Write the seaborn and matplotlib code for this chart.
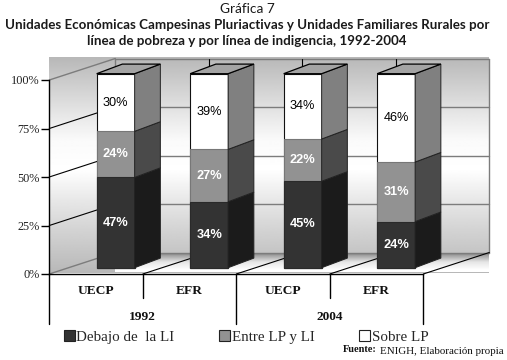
import numpy as np
import pandas as pd
import matplotlib
matplotlib.use("Agg")
import matplotlib.pyplot as plt
from matplotlib.patches import Patch
import seaborn as sns

# ---- data ----
categories = ["UECP", "EFR", "UECP", "EFR"]
years = ["1992", "2004"]
bajo_li = [47, 34, 45, 24]
entre_lp_li = [24, 27, 22, 31]
sobre_lp = [30, 39, 34, 46]
series_names = ["Debajo de  la LI", "Entre LP y LI", "Sobre LP"]
y_ticks = [0, 25, 50, 75, 100]

sns.set_theme(style="white")
W, H = 507, 360
fig = plt.figure(figsize=(W / 100, H / 100), dpi=100, facecolor="white")
L, R, Y0, Y100 = 49.3, 423.3, 274.0, 80.0
ax = fig.add_axes([L / W, 1 - Y0 / H, (R - L) / W, (Y0 - Y100) / H])
ax.set_xlim(-0.5, 3.5)
ax.set_ylim(0, 100)
ax.patch.set_visible(False)


def dx(px):
    return px * 4 / (R - L)


def dy(px):
    return px * 100 / (Y0 - Y100)


def X(px):
    return -0.5 + dx(px - L)


def Y(px):
    return dy(Y0 - px)


# ---- walls and floor ----
grad_y = np.linspace(57, 273, 220)
grad = np.interp(grad_y, [57, 106, 140, 170, 203, 273], [0.72, 0.88, 0.98, 1.0, 0.90, 0.72])
ax.imshow(grad[:, None], cmap="gray", vmin=0, vmax=1, aspect="auto", zorder=0,
          extent=[X(49.3), X(489), Y(273), Y(57)], clip_on=False)
floor_y = np.linspace(253, 272, 40)
floor = np.interp(floor_y, [253, 255, 262, 270], [0.50, 0.62, 0.90, 1.0])
ax.imshow(floor[:, None], cmap="gray", vmin=0, vmax=1, aspect="auto", zorder=0.5,
          extent=[X(115), X(489), Y(272), Y(253)], clip_on=False)
ax.set_xlim(-0.5, 3.5)
ax.set_ylim(0, 100)

DX, DY = dx(66), dy(21.5)
wall = dict(color="#7c7c7c", lw=1.0, clip_on=False, zorder=1)
for t in y_ticks:
    yb = t
    if t in (0, 100):
        ax.plot([-0.5, -0.5 + DX], [yb, yb + DY], **wall)
    else:
        ax.plot([-0.5, -0.5 + DX], [yb, yb + DY], color="black", lw=0.8, clip_on=False, zorder=1)
    ax.plot([-0.5 + DX, -0.5 + 4 + DX], [yb + DY, yb + DY], **wall)
ax.plot([-0.5 + DX] * 2, [DY, 100 + DY], **wall)
ax.plot([3.5 + DX] * 2, [DY, 100 + DY], **wall)
for i in range(5):
    if i > 0:
        ax.plot([i - 0.5, i - 0.5 + DX], [0, DY], color="black", lw=0.8, clip_on=False, zorder=1.5)
    if 0 < i < 4:
        ax.plot([i - 0.5 + DX] * 2, [100 + DY, 100 + DY - dy(10)], color="black", lw=0.8,
                clip_on=False, zorder=1.5)

# ---- stacked bars ----
totals = np.array(bajo_li, float) + np.array(entre_lp_li) + np.array(sobre_lp)
low = np.array(bajo_li) / totals * 100
mid = np.array(entre_lp_li) / totals * 100
top = np.array(sobre_lp) / totals * 100
shift_x, base = dx(19.6), dy(6.3)
xpos = np.arange(4) + shift_x
bw = dx(38)

front_cols = ["#333333", "#929292", "#ffffff"]
side_cols = ["#1b1b1b", "#4a4a4a", "#808080"]
edge_cols = ["#2a2a2a", "#777777", "#111111"]
cum = [low, low + mid, low + mid + top]
for k in (2, 1, 0):
    df = pd.DataFrame({"x": xpos, "y": cum[k]})
    sns.barplot(data=df, x="x", y="y", native_scale=True, color=front_cols[k], saturation=1,
                width=bw, bottom=base, errorbar=None, ax=ax, edgecolor=edge_cols[k],
                linewidth=0.8, zorder=5, clip_on=False)

sdx, sdy = dx(25.7), dy(9.6)
for i, xc in enumerate(xpos):
    xr = xc + bw / 2
    xl = xc - bw / 2
    lower = base
    for k, vals in enumerate([low, mid, top]):
        upper = lower + vals[i]
        ax.fill([xr, xr + sdx, xr + sdx, xr],
                [lower, lower + sdy, upper + sdy, upper],
                facecolor=side_cols[k], edgecolor="#222222", lw=0.7, zorder=6, clip_on=False)
        lab_col = "black" if k == 2 else "white"
        ax.text(xc, lower + vals[i] / 2, f"{[bajo_li, entre_lp_li, sobre_lp][k][i]}%",
                ha="center", va="center", color=lab_col, fontsize=9.2,
                family="Liberation Sans", fontweight="normal" if k == 2 else "bold", zorder=10)
        lower = upper
    ax.fill([xl, xr, xr + sdx, xl + sdx],
            [lower, lower, lower + sdy, lower + sdy],
            facecolor="#a4a4a4", edgecolor="black", lw=0.9, zorder=6, clip_on=False)

# ---- axes ----
for s in ("top", "right"):
    ax.spines[s].set_visible(False)
for s in ("left", "bottom"):
    ax.spines[s].set_visible(True)
    ax.spines[s].set_color("black")
    ax.spines[s].set_linewidth(1.0)
    ax.spines[s].set_zorder(7)
ax.set_yticks(y_ticks)
ax.set_yticklabels([f"{t}%" for t in y_ticks], family="Liberation Serif", fontsize=8.8, color="#222222")
ax.tick_params(axis="y", left=True, length=5.5, width=1, color="black", pad=1.5)
ax.set_xticks([])
ax.set_xlabel("")
ax.set_ylabel("")

# ---- two-level category axis ----
for i in range(5):
    long_line = i % 2 == 0
    ax.plot([i - 0.5] * 2, [0, Y(324 if long_line else 298)], color="black", lw=1.0, clip_on=False)
for i, c in enumerate(categories):
    ax.text(i, Y(291), c, ha="center", va="center", family="Liberation Serif",
            fontweight="bold", fontsize=9.6, color="#111111")
for i, yr in enumerate(years):
    ax.text(2 * i + 0.5, Y(317), yr, ha="center", va="center", family="Liberation Serif",
            fontweight="bold", fontsize=9.6, color="#111111")

# ---- legend ----
handles = [Patch(facecolor=c, edgecolor="#222222", lw=0.8) for c in front_cols]
fig.legend(handles, series_names, loc="center left", bbox_to_anchor=(64 / W, 1 - 337 / H),
           ncol=3, frameon=False, borderpad=0, borderaxespad=0, handlelength=0.72,
           handleheight=0.72, handletextpad=0.1, columnspacing=3.0,
           prop={"family": "Liberation Serif", "size": 10.8})

# ---- texts ----
title_font = dict(family="Lato", color="#1a1a1a", ha="center", va="center")
fig.text(247 / W, 1 - 9 / H, "Gráfica 7", fontsize=9.8, **title_font)
fig.text(247 / W, 1 - 25 / H, "Unidades Económicas Campesinas Pluriactivas y Unidades Familiares Rurales por",
         fontsize=9.6, fontweight="bold", **title_font)
fig.text(247 / W, 1 - 41 / H, "línea de pobreza y por línea de indigencia, 1992-2004",
         fontsize=9.6, fontweight="bold", **title_font)
fig.text(343 / W, 1 - 349 / H, "Fuente:", family="Liberation Serif", fontweight="bold", fontsize=7.5,
         ha="left", va="center", color="#111111")
fig.text(380 / W, 1 - 352 / H, "ENIGH, Elaboración propia", family="Liberation Serif", fontsize=7.9,
         ha="left", va="center", color="#111111")

fig.savefig("out.png", dpi=100)
